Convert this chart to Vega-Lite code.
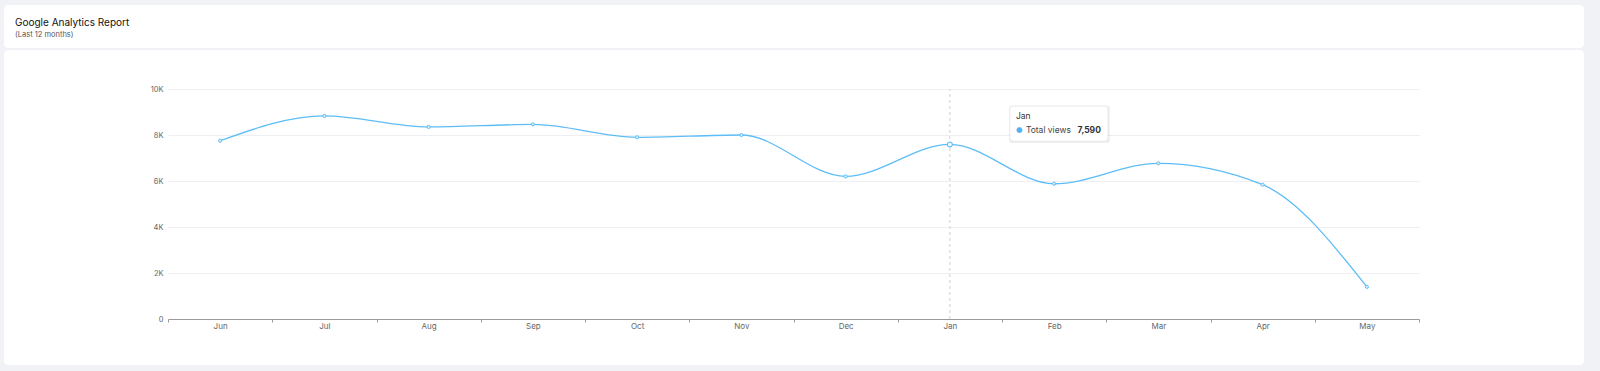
{
  "$schema": "https://vega.github.io/schema/vega-lite/v6.json",
  "background": "#f1f2f6",
  "padding": {"left": 4, "top": 5, "right": 16, "bottom": 6},
  "spacing": 2,
  "config": {
    "font": "Inter",
    "view": {"stroke": null}
  },
  "datasets": {
    "views": [
      {"month": "Jun", "views": 7750},
      {"month": "Jul", "views": 8830},
      {"month": "Aug", "views": 8350},
      {"month": "Sep", "views": 8460},
      {"month": "Oct", "views": 7900},
      {"month": "Nov", "views": 8000},
      {"month": "Dec", "views": 6200},
      {"month": "Jan", "views": 7590},
      {"month": "Feb", "views": 5880},
      {"month": "Mar", "views": 6770},
      {"month": "Apr", "views": 5840},
      {"month": "May", "views": 1400}
    ]
  },
  "vconcat": [
    {
      "width": 1580,
      "height": 43,
      "view": {"fill": "white", "stroke": null, "cornerRadius": 4},
      "title": {
        "text": "Google Analytics Report",
        "subtitle": "(Last 12 months)",
        "anchor": "start",
        "frame": "group",
        "orient": "top",
        "offset": -33,
        "dx": 11,
        "font": "Inter",
        "fontSize": 10,
        "fontWeight": "normal",
        "color": "#111114",
        "subtitleFont": "Inter",
        "subtitleFontSize": 7.5,
        "subtitleColor": "#555",
        "subtitlePadding": 3
      },
      "data": {"values": [{"k": 1}]},
      "mark": {"type": "rect", "opacity": 0}
    },
    {
      "width": 1580,
      "height": 315,
      "view": {"fill": "white", "stroke": null, "cornerRadius": 4},
      "data": {"name": "views"},
      "encoding": {
        "x": {
          "field": "month",
          "type": "nominal",
          "scale": {
            "type": "band",
            "domain": ["Jun", "Jul", "Aug", "Sep", "Oct", "Nov", "Dec", "Jan", "Feb", "Mar", "Apr", "May"],
            "range": [164, 1415],
            "paddingInner": 0,
            "paddingOuter": 0
          },
          "axis": {
            "title": null,
            "orient": "bottom",
            "offset": -46,
            "labelAngle": 0,
            "domainColor": "#9a9a9a",
            "domainWidth": 1,
            "tickColor": "#9a9a9a",
            "tickSize": 3,
            "tickBand": "extent",
            "labelPadding": 0,
            "labelFontSize": 8,
            "labelColor": "#666",
            "labelFont": "Inter",
            "grid": false
          }
        }
      },
      "layer": [
        {
          "transform": [{"filter": "datum.month == 'Jan'"}],
          "mark": {"type": "rule", "color": "#cfcfcf", "strokeDash": [3, 3], "strokeWidth": 1},
          "encoding": {
            "y": {"datum": 0, "type": "quantitative"},
            "y2": {"datum": 10000}
          }
        },
        {
          "mark": {"type": "line", "interpolate": "monotone", "color": "#5dbdf6", "strokeWidth": 1.3},
          "encoding": {
            "y": {
              "field": "views",
              "type": "quantitative",
              "scale": {"domain": [0, 10000], "range": [269, 39], "nice": false},
              "axis": {
                "title": null,
                "orient": "left",
                "offset": -164,
                "domain": false,
                "ticks": false,
                "labelPadding": 5,
                "values": [0, 2000, 4000, 6000, 8000, 10000],
                "labelExpr": "datum.value == 0 ? '0' : (datum.value / 1000) + 'K'",
                "labelFontSize": 7.5,
                "labelColor": "#666",
                "labelFont": "Inter",
                "grid": true,
                "gridColor": "#efeff3",
                "gridWidth": 1
              }
            }
          }
        },
        {
          "mark": {"type": "point", "filled": true, "fill": "#dff1fd", "stroke": "#5dbdf6", "strokeWidth": 1, "size": 10, "opacity": 1},
          "encoding": {"y": {"field": "views", "type": "quantitative"}}
        },
        {
          "transform": [{"filter": "datum.month == 'Jan'"}],
          "mark": {"type": "point", "filled": true, "fill": "white", "stroke": "#5dbdf6", "strokeWidth": 1.2, "size": 24, "opacity": 1},
          "encoding": {"y": {"field": "views", "type": "quantitative"}}
        },
        {
          "transform": [{"filter": "datum.month == 'Jan'"}],
          "mark": {
            "type": "point",
            "filled": true,
            "fill": "#000000",
            "fillOpacity": 0.07,
            "strokeWidth": 0,
            "size": 102400,
            "shape": "M 0.387 -0.243 H 0.982 Q 0.999 -0.243 0.999 -0.226 V -0.026 Q 0.999 -0.009 0.982 -0.009 H 0.387 Q 0.370 -0.009 0.370 -0.026 V -0.226 Q 0.370 -0.243 0.387 -0.243 Z"
          },
          "encoding": {"y": {"field": "views", "type": "quantitative"}}
        },
        {
          "transform": [{"filter": "datum.month == 'Jan'"}],
          "mark": {
            "type": "point",
            "filled": true,
            "fill": "white",
            "fillOpacity": 1,
            "stroke": "#e8e8ec",
            "strokeWidth": 0.6,
            "size": 102400,
            "shape": "M 0.394 -0.239 H 0.969 Q 0.9875 -0.239 0.9875 -0.220 V -0.040 Q 0.9875 -0.021 0.969 -0.021 H 0.394 Q 0.375 -0.021 0.375 -0.040 V -0.220 Q 0.375 -0.239 0.394 -0.239 Z"
          },
          "encoding": {"y": {"field": "views", "type": "quantitative"}}
        },
        {
          "transform": [{"filter": "datum.month == 'Jan'"}],
          "mark": {"type": "text", "align": "left", "baseline": "middle", "dx": 66, "dy": -28, "fontSize": 8.5, "color": "#333", "font": "Inter"},
          "encoding": {
            "y": {"field": "views", "type": "quantitative"},
            "text": {"field": "month"}
          }
        },
        {
          "transform": [{"filter": "datum.month == 'Jan'"}],
          "mark": {"type": "text", "align": "center", "baseline": "middle", "dx": 69.5, "dy": -14.5, "fontSize": 7.5, "color": "#4fb1f3", "font": "DejaVu Sans", "text": "●"},
          "encoding": {"y": {"field": "views", "type": "quantitative"}}
        },
        {
          "transform": [{"filter": "datum.month == 'Jan'"}],
          "mark": {"type": "text", "align": "left", "baseline": "middle", "dx": 76, "dy": -14, "fontSize": 8.5, "color": "#444", "font": "Inter", "text": "Total views"},
          "encoding": {"y": {"field": "views", "type": "quantitative"}}
        },
        {
          "transform": [{"filter": "datum.month == 'Jan'"}],
          "mark": {"type": "text", "align": "right", "baseline": "middle", "dx": 151, "dy": -14, "fontSize": 8.5, "fontWeight": "bold", "color": "#333", "font": "Inter"},
          "encoding": {
            "y": {"field": "views", "type": "quantitative"},
            "text": {"field": "views", "type": "quantitative", "format": ","}
          }
        }
      ]
    }
  ]
}
